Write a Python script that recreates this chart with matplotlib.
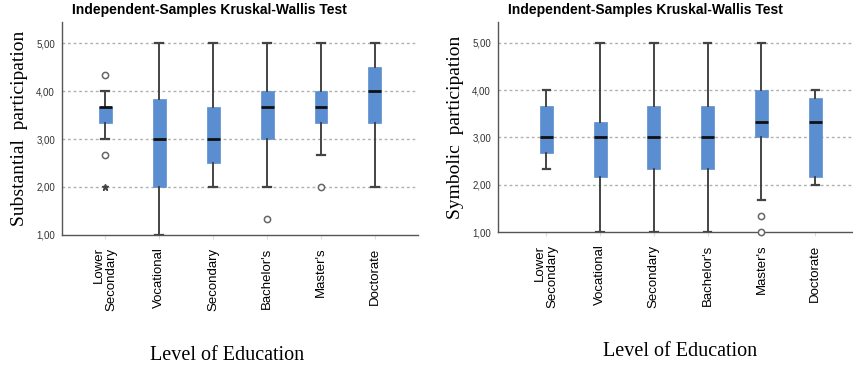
import matplotlib
matplotlib.use("Agg")
import matplotlib.pyplot as plt

categories = ["Lower\nSecondary", "Vocational", "Secondary", "Bachelor's", "Master's", "Doctorate"]
y_ticks = [1, 2, 3, 4, 5]
y_tick_labels = ["1,00", "2,00", "3,00", "4,00", "5,00"]

# Substantial participation (left panel)
sub_whislo = [3.00, 1.00, 2.00, 2.00, 2.67, 2.00]
sub_q1 = [3.33, 2.00, 2.50, 3.00, 3.33, 3.33]
sub_med = [3.67, 3.00, 3.00, 3.67, 3.67, 4.00]
sub_q3 = [3.67, 3.83, 3.67, 4.00, 4.00, 4.50]
sub_whishi = [4.00, 5.00, 5.00, 5.00, 5.00, 5.00]
sub_outliers = [[4.33, 2.67], [], [], [1.33], [2.00], []]
sub_extremes = [[2.00], [], [], [], [], []]

# Symbolic participation (right panel)
sym_whislo = [2.33, 1.00, 1.00, 1.00, 1.67, 2.00]
sym_q1 = [2.67, 2.17, 2.33, 2.33, 3.00, 2.17]
sym_med = [3.00, 3.00, 3.00, 3.00, 3.33, 3.33]
sym_q3 = [3.67, 3.33, 3.67, 3.67, 4.00, 3.83]
sym_whishi = [4.00, 5.00, 5.00, 5.00, 5.00, 4.00]
sym_outliers = [[], [], [], [], [1.33, 1.00], []]
sym_extremes = [[], [], [], [], [], []]

BOX_COLOR = "#5b8ed0"


def draw_panel(ax, whislo, q1, med, q3, whishi, outliers, extremes, ylabel, xlim, xlabel_pos):
    stats = []
    for i in range(len(categories)):
        stats.append({"whislo": whislo[i], "q1": q1[i], "med": med[i],
                      "q3": q3[i], "whishi": whishi[i], "fliers": []})
    positions = list(range(1, len(categories) + 1))
    ax.bxp(stats, positions=positions, widths=0.24, showfliers=False, patch_artist=True,
           boxprops=dict(facecolor=BOX_COLOR, edgecolor=BOX_COLOR, linewidth=0.5),
           medianprops=dict(color="#111111", linewidth=2),
           whiskerprops=dict(color="#444444", linewidth=1.4),
           capprops=dict(color="#444444", linewidth=1.6),
           capwidths=0.14, zorder=3)
    for i, pos in enumerate(positions):
        if outliers[i]:
            ax.plot([pos] * len(outliers[i]), outliers[i], "o", mfc="white", mec="#666666",
                    ms=4.5, mew=1.1, zorder=4, clip_on=False)
        if extremes[i]:
            ax.plot([pos] * len(extremes[i]), extremes[i], "*", color="#444444",
                    ms=5, zorder=4, clip_on=False)

    for y in y_ticks[1:]:
        ax.axhline(y, color="#b0b0b0", linestyle=(0, (2, 2)), linewidth=1, zorder=1)

    ax.set_ylim(1, 5.44)
    ax.set_xlim(*xlim)
    ax.set_yticks(y_ticks)
    ax.set_yticklabels(y_tick_labels, fontsize=7, color="#333333", family="Liberation Sans")
    ax.set_xticks(positions)
    ax.set_xticklabels(categories, rotation=90, fontsize=9.5, family="Liberation Sans",
                       va="top", ha="center", multialignment="right", linespacing=1.0)
    ax.tick_params(axis="y", length=0, pad=5)
    ax.tick_params(axis="x", length=3, color="#dddddd", pad=6)
    for side in ["top", "right"]:
        ax.spines[side].set_visible(False)
    for side in ["left", "bottom"]:
        ax.spines[side].set_color("#555555")
        ax.spines[side].set_linewidth(1)
    ax.set_ylabel(ylabel, family="Liberation Serif", fontsize=14, labelpad=6)
    ax.set_xlabel("Level of Education", family="Liberation Serif", fontsize=14.5)
    ax.xaxis.set_label_coords(*xlabel_pos)
    ax.text(0.413, 1.025, "Independent-Samples Kruskal-Wallis Test", transform=ax.transAxes,
            ha="center", va="bottom", fontsize=10, fontweight="bold", family="Liberation Sans")


def main():
    fig = plt.figure(figsize=(8.54, 3.66), dpi=100)
    ax1 = fig.add_axes([0.0726, 0.358, 0.417, 0.582])
    ax2 = fig.add_axes([0.583, 0.366, 0.417, 0.574])

    draw_panel(ax1, sub_whislo, sub_q1, sub_med, sub_q3, sub_whishi, sub_outliers, sub_extremes,
               "Substantial  participation", (0.2, 6.8), (0.463, -0.52))
    draw_panel(ax2, sym_whislo, sym_q1, sym_med, sym_q3, sym_whishi, sym_outliers, sym_extremes,
               "Symbolic  participation", (0.1, 6.72), (0.511, -0.524))

    fig.savefig("out.png", dpi=100)


if __name__ == '__main__':
    main()
